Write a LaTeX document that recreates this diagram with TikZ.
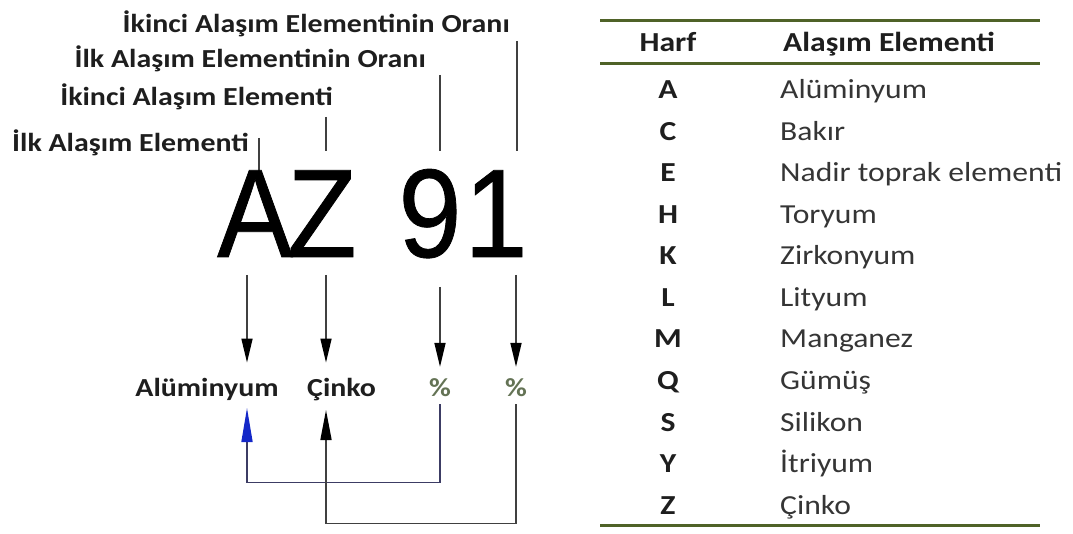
\documentclass[tikz,border=0pt]{standalone}
\usepackage{fontspec}
\usetikzlibrary{arrows.meta}
\newfontfamily\lblfont{Carlito}[FakeStretch=1.15]
\newfontfamily\bigfont{Liberation Sans}[FakeStretch=0.9,FakeBold=0.6]
\definecolor{ink}{RGB}{30,30,30}
\definecolor{rulegreen}{RGB}{79,98,40}
\definecolor{pctgreen}{RGB}{100,115,85}
\definecolor{slate}{RGB}{60,60,100}
\definecolor{tipblue}{RGB}{20,40,200}

\begin{document}
\begin{tikzpicture}[x=1pt,y=-1pt,
  lbl/.style={font=\lblfont\fontsize{26}{30}\selectfont\bfseries, text=ink, inner sep=0},
  tbl/.style={font=\lblfont\fontsize{27.5}{32}\selectfont, text=ink!90, inner sep=0},
  tblb/.style={tbl, font=\lblfont\fontsize{27.5}{32}\selectfont\bfseries, text=ink},
  big/.style={font=\bigfont\fontsize{126}{126}\selectfont, text=black, inner sep=0, anchor=base},
  tick/.style={draw=ink!85, line width=1.6pt},
  dn/.style={draw=ink!85, line width=1.6pt, -{Triangle[length=24pt,width=11pt,color=black]}},
  rule/.style={draw=rulegreen, line width=3pt}]
\useasboundingbox (0,0) rectangle (1073,534);

% labels at the top
\node[lbl, anchor=base east] (l1) at (510,33) {İkinci Alaşım Elementinin Oranı};
\node[lbl, anchor=base east] (l2) at (426,68) {İlk Alaşım Elementinin Oranı};
\node[lbl, anchor=base east] (l3) at (333,106) {İkinci Alaşım Elementi};
\node[lbl, anchor=base east] (l4) at (249,152) {İlk Alaşım Elementi};
\draw[tick] (l4.base east) ++(10,-14) -- ++(0,36);
\draw[tick] (l3.base east) ++(-7,11) -- ++(0,34);
\draw[tick] (l2.base east) ++(14,7) -- ++(0,76);
\draw[tick] (l1.base east) ++(7,8) -- ++(0,110);

% the code
\node[big] (A) at (255,257) {A};
\node[big] (Z) at (322,257) {Z};
\node[big] (nine) at (430,257) {9};
\node[big] (one) at (496,257) {1};

% what the parts mean
\node[lbl, anchor=base] (alu) at (207,396) {Alüminyum};
\node[lbl, anchor=base west] (zn) at (307,396) {Çinko};
\node[lbl, anchor=base, text=pctgreen] (p1) at (440,396) {\%};
\node[lbl, anchor=base, text=pctgreen] (p2) at (516,396) {\%};

\coordinate (a1) at (247,275);
\coordinate (a2) at (326,275);
\coordinate (a3) at (440,287);
\coordinate (a4) at (516,275);
\draw[dn, shorten >=15pt] (a1) -- (a1 |- alu.north);
\draw[dn, shorten >=15pt] (a2) -- (a2 |- zn.north);
\draw[dn, shorten >=11pt] (a3) -- (p1.north);
\draw[dn, shorten >=11pt] (a4) -- (p2.north);

\coordinate (b1) at (247,408);
\coordinate (b2) at (326,410);
\draw[slate, line width=1.6pt, -{Triangle[length=34pt,width=11pt,color=tipblue]}]
  ([yshift=-8pt]p1.south) -- ++(0,78) -| (b1);
\draw[ink!85, line width=1.6pt, -{Triangle[length=30pt,width=11pt,color=black]}]
  ([yshift=-8pt]p2.south) -- ++(0,119) -| (b2);

% table
\draw[rule] (600,21) -- (1040,21);
\draw[rule] (600,64) -- (1040,64);
\draw[rule] (600,525) -- (1040,525);
\node[tblb, anchor=base] (hl) at (668,52) {Harf};
\node[tblb, anchor=base west] (hn) at (783,52) {Alaşım Elementi};
\foreach \l/\n [count=\i from 0] in {A/Alüminyum, C/Bakır, E/Nadir toprak elementi,
  H/Toryum, K/Zirkonyum, L/Lityum, M/Manganez, Q/Gümüş, S/Silikon, Y/İtriyum, Z/Çinko} {
  \node[tblb, anchor=base] (k\i) at (668,{99+41.5*\i}) {\l};
  \node[tbl, anchor=base west] (v\i) at (780,{99+41.5*\i}) {\n};
}
\end{tikzpicture}
\end{document}
